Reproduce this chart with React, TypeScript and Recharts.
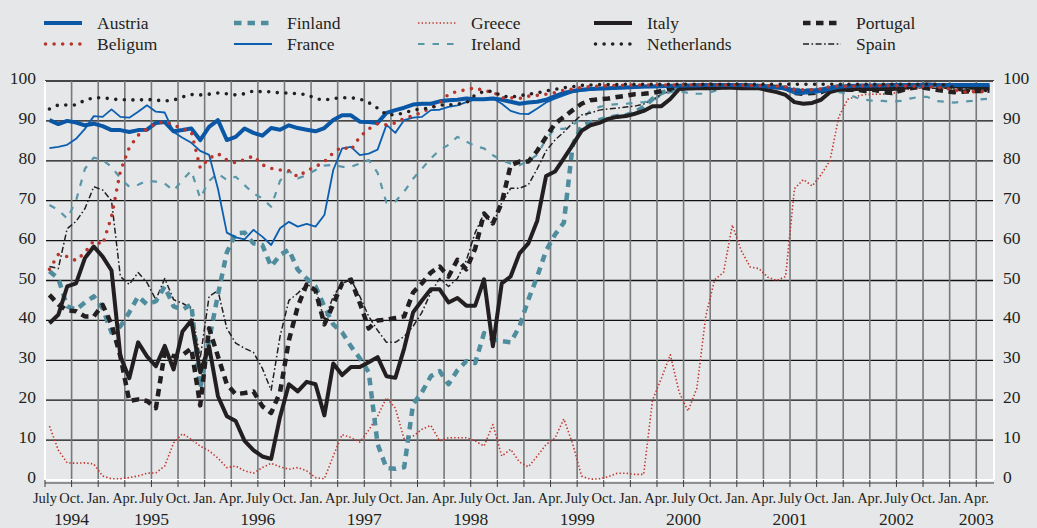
import { CartesianGrid, Line, LineChart, ReferenceLine, XAxis, YAxis } from "recharts";

// monthly readings, July 1994 .. May 2003 (plotted at mid-month)
const AUSTRIA = [
  90.2, 89.2, 90, 89.6, 88.9, 89.3, 88.7, 87.7, 87.7, 87.2,
  87.7, 87.8, 89.5, 89.7, 87.4, 87.7, 88.1, 85.2, 88.5, 90.2,
  85.2, 86, 88.1, 87, 86.3, 88.2, 87.8, 88.9, 88.2, 87.8,
  87.4, 88.2, 90.2, 91.4, 91.4, 89.8, 89.7, 89.5, 92, 92.7,
  93.3, 94.1, 94.3, 94.3, 94.9, 95.2, 95.3, 95.6, 95.4, 95.4,
  95.6, 95.3, 94.8, 94.3, 94.6, 94.8, 95.3, 96.2, 97, 97.5,
  97.8, 98, 98.1, 98.2, 98.3, 98.4, 98.5, 98.6, 98.6, 98.7,
  98.8, 98.8, 98.9, 98.9, 99, 99, 99, 99, 99, 98.9,
  98.8, 98.6, 98.4, 98.2, 97.6, 97.5, 97.6, 97.8, 98.2, 98.6,
  98.7, 98.8, 98.8, 98.9, 98.9, 99, 99, 99, 99, 99,
  99, 99, 99, 99, 99, 99, 99,
];

const BELGIUM = [
  52.8, 56.5, 56, 55, 57, 60, 59, 66, 77.4, 83.3,
  86.4, 88, 89.3, 89.8, 89, 88, 87.3, 78.2, 80.6, 81.8,
  80.2, 79.5, 80.3, 81.2, 79, 78.1, 77.7, 77.5, 76, 77.5,
  78.5, 79.8, 82, 83.5, 82.7, 86, 88, 89.3, 89, 89.5,
  90.6, 91.3, 92.2, 93.2, 94.5, 96.7, 97.4, 97.8, 98.3, 97.5,
  97.3, 95.8, 95.8, 95.6, 96.2, 96.4, 96.7, 97.1, 97.7, 98,
  98.4, 98.6, 98.7, 98.8, 98.9, 98.9, 99, 99, 99, 99,
  99, 99, 99, 99, 99, 99, 99, 99, 98.9, 98.9,
  98.8, 98.8, 98.7, 98.5, 97.8, 97.8, 97.8, 98, 98.6, 98.7,
  98.7, 98.7, 98.8, 98.8, 98.8, 98.8, 98.8, 98.7, 98.7, 98.6,
  98.5, 98.2, 97.8, 97.2, 97.3, 97.3, 97.8,
];

const FINLAND = [
  52.3, 50.5, 43.5, 42.7, 44.5, 46, 43, 37, 38.5, 42,
  46, 44, 44.8, 48.5, 43.5, 42.7, 44, 23, 35, 46.5,
  57, 61.8, 62, 59.3, 58.9, 53.5, 56.4, 57.7, 52.7, 50.5,
  48.5, 43.5, 39, 37, 33.5, 30.5, 27, 9, 3, 2.8,
  3.2, 19, 22, 26, 27.3, 24, 27.5, 29.8, 29.3, 36.8,
  35.2, 34.8, 34.5, 38.5, 45.2, 51, 57.5, 61.5, 64.5, 84,
  88.8, 89.6, 90.2, 90.8, 91.2, 91.4, 92.2, 93.5, 95.5, 97,
  97.8, 98.2, 98.5, 98.6, 98.7, 98.8, 98.8, 98.8, 98.8, 98.8,
  98.7, 98.6, 98.5, 98.3, 97.8, 97.6, 97.6, 97.8, 98.3, 98.6,
  98.7, 98.8, 98.8, 98.8, 98.8, 98.9, 98.9, 98.9, 98.9, 98.9,
  98.9, 98.9, 98.9, 98.9, 98.9, 98.9, 98.9,
];

const FRANCE = [
  83.2, 83.5, 84, 85.5, 88, 91.2, 91, 92.9, 91, 90.8,
  92.3, 93.9, 92.3, 92.1, 87.2, 85.8, 84.5, 82.5, 81.5, 73,
  62, 60.8, 60.3, 62.7, 61, 58.9, 63.1, 64.7, 63.5, 64.2,
  63.5, 66.4, 77.7, 83.1, 83.5, 81.4, 81.8, 82.8, 89, 87,
  90.2, 90.8, 91, 92.7, 92.8, 93.5, 93.9, 94.7, 95.3, 95.3,
  95.6, 94.3, 92.5, 91.8, 91.7, 93.1, 94.6, 95.6, 96.4, 97.2,
  97.5, 97.8, 97.9, 98, 98.1, 98.2, 98.3, 98.4, 98.5, 98.6,
  98.7, 98.8, 98.9, 98.9, 98.9, 98.9, 98.9, 98.9, 98.9, 98.8,
  98.6, 98.4, 98.2, 97.8, 96.8, 96.8, 97, 97.2, 97.8, 98.3,
  98.6, 98.7, 98.8, 98.8, 98.9, 98.9, 98.9, 98.9, 98.9, 98.9,
  98.9, 98.9, 98.8, 98.8, 98.8, 98.8, 98.8,
];

const GREECE = [
  13.5, 7.5, 4.3, 4.2, 4.3, 4, 1, 0.3, 0.3, 0.6,
  1, 1.7, 1.8, 3.5, 9.3, 11.6, 10.2, 8.5, 7.3, 5.5,
  3.1, 3.5, 2.3, 1.7, 3.1, 4.2, 3.3, 2.7, 3.1, 2.3,
  0.6, 0.3, 6, 11.4, 10.6, 9.5, 12.5, 16, 20.6, 18,
  10.2, 11, 12.7, 13.7, 9.8, 10.6, 10.6, 10.6, 9.8, 8.5,
  13.9, 6, 7.7, 4.5, 3.3, 6, 8.9, 10.5, 15.3, 9,
  1, 0.2, 0.3, 0.8, 1.7, 1.7, 1.4, 1.4, 20, 25.5,
  31.4, 22, 17.3, 23, 41, 50.2, 52, 63.9, 57.5, 53.4,
  53, 50.8, 50, 51, 73, 75.3, 73.7, 76.5, 80, 91,
  95.4, 96.2, 96.6, 96.7, 96.7, 96.8, 97.5, 98, 98.2, 98.3,
  98.3, 98.2, 98, 97.3, 97.5, 97.5, 97.8,
];

const IRELAND = [
  68.9, 67.7, 65.5, 70, 78, 80.8, 80.2, 78.5, 75.6, 73.5,
  74, 75, 74.8, 74.3, 72.5, 75.2, 77.5, 70.6, 75, 76.8,
  75.2, 76, 73.9, 71.8, 70.6, 68.5, 75, 77.5, 75.6, 76.4,
  77.7, 78.8, 79, 78.5, 78.5, 79.3, 80.2, 77, 69.5, 69.8,
  72.3, 75.5, 78, 80.6, 82.7, 84, 86, 84.8, 83.7, 83.1,
  81.4, 80.2, 79.3, 78.9, 80, 81.5, 85.5, 88, 88, 89,
  90.5, 92.5, 93.5, 94, 94.2, 94.3, 94.5, 94.7, 95, 96.5,
  97.2, 97.5, 97, 96.8, 96.8, 97.5, 98, 98.5, 98.5, 98.5,
  98.5, 98.5, 98.5, 98.5, 97.5, 97.3, 97.3, 97.5, 97.8, 97.2,
  96.8, 95.8, 95.3, 95, 95, 94.8, 95, 95.6, 96, 96,
  95, 94.8, 94.6, 94.8, 95, 95.4, 95.6,
];

const ITALY = [
  39.3, 41.4, 48.5, 49.3, 55.6, 58.5, 56, 52.5, 31, 25.5,
  34.5, 31, 28.5, 33.6, 27.7, 37.2, 40, 27, 33.5, 21,
  16, 14.8, 9.8, 7.5, 5.9, 5.3, 15.8, 24, 22.2, 24.6,
  24, 16.2, 29.2, 26.3, 28.3, 28.3, 29.5, 30.8, 26, 25.6,
  33, 42, 45, 47.8, 47.8, 44.5, 45.6, 43.7, 43.7, 50.3,
  33.5, 49.3, 51, 56.8, 59.3, 65, 76.2, 77.3, 80.6, 84,
  87.5, 88.9, 89.5, 90.5, 91, 91.2, 91.8, 92.5, 93.7, 93.7,
  95.5, 98, 98.1, 98.2, 98.2, 98.2, 98.3, 98.3, 98.2, 98.2,
  98.2, 97.7, 97.2, 96.5, 94.7, 94.3, 94.5, 95.3, 97.2, 97.8,
  97.8, 98, 98, 98, 98, 98, 98.2, 98.5, 99, 99.1,
  99, 98.8, 98.7, 98.6, 98.5, 98.4, 98.3,
];

const NETHERLANDS = [
  93, 94, 94, 94, 95.2, 95.8, 95.8, 95.5, 95.3, 95.3,
  95.2, 95.4, 95.2, 95, 95.2, 96, 96.6, 96.5, 96.7, 97,
  96.8, 96.5, 96.8, 97.5, 97.3, 97.3, 97, 97, 96.8, 96.6,
  95.6, 95.2, 95.6, 95.8, 95.8, 95.5, 94.6, 93.2, 91.6, 91.5,
  92, 92.7, 93, 93.3, 94, 94, 94.2, 94.5, 96.5, 97.4,
  97.4, 96.2, 96, 96.3, 96.7, 97, 97.5, 97.9, 98.3, 98.6,
  98.9, 99, 99.1, 99.1, 99.1, 99.2, 99.2, 99.2, 99.2, 99.2,
  99.2, 99.2, 99.2, 99.2, 99.2, 99.2, 99.2, 99.2, 99.2, 99.2,
  99.2, 99.2, 99.2, 99.2, 99.2, 99.2, 99.2, 99.2, 99.2, 99.2,
  99.2, 99.2, 99.2, 99.2, 99.2, 99.2, 99.2, 99.2, 99.2, 99.2,
  99.2, 99, 98.3, 97.6, 97.6, 97.4, 97.8,
];

const PORTUGAL = [
  46.4, 44, 42.5, 42.3, 41, 41, 43.9, 39, 31, 19.8,
  20.2, 19.8, 18, 32, 31, 31.3, 33, 18.7, 38, 31,
  24, 21.5, 21.8, 22.2, 18.5, 16.8, 22, 35, 43.5, 49,
  47.5, 39, 44, 49.3, 50.2, 44.3, 38, 40, 40.2, 40.6,
  41, 47, 49.3, 52, 53.5, 51, 55.2, 52.8, 58, 66.8,
  64.3, 69.5, 78.9, 79.8, 79.8, 82.5, 86, 89.3, 91, 92.7,
  94.3, 95.2, 95.4, 95.6, 96, 96.3, 96.7, 96.8, 97, 97.5,
  98.1, 98.7, 98.8, 98.8, 98.8, 98.8, 98.8, 98.8, 98.8, 98.8,
  98.7, 98.6, 98.5, 98.2, 97, 96.8, 97, 97.2, 98, 98.3,
  97.8, 97.8, 97.5, 97.8, 97.2, 97, 97.6, 98.2, 98.5, 98.2,
  97.8, 97.5, 97.2, 97.3, 97.5, 97.5, 97.6,
];

const SPAIN = [
  53.5, 53, 63, 64.8, 68, 73.5, 72.7, 70, 51, 49,
  52, 49.5, 45.2, 50.5, 45.2, 44.3, 43, 30.5, 46, 47.5,
  38, 34.3, 33, 32, 28, 22.5, 36, 45, 46.8, 49,
  48, 40, 46, 49.3, 50.2, 46, 41, 37.5, 34.5, 34.5,
  36, 38.5, 42, 47, 50.5, 48.5, 50.5, 55, 62, 66.8,
  64, 69.5, 73.1, 73.1, 74, 78, 82.5, 85.2, 87.2, 89.5,
  91.5, 92, 92.7, 93, 93.2, 93.5, 93.7, 94.2, 95.3, 96.7,
  97.5, 98.2, 98.5, 98.6, 98.6, 98.6, 98.6, 98.6, 98.6, 98.5,
  98.4, 98.3, 98.2, 98, 97, 96.8, 97, 97.5, 98, 98.3,
  98.4, 98.4, 98.4, 98.4, 98.3, 98.3, 98.3, 98.3, 98.3, 98.2,
  98.2, 98.2, 98, 98, 98, 98, 98,
];

const MONTH_NAMES = ["July", "Oct.", "Jan.", "Apr."];
const MONTH_TICKS = Array.from({ length: 36 }, (_, i) => i * 3);
const YEAR_TICKS = [3, 12, 24, 36, 48, 60, 72, 84, 96, 105];
const YEAR_LABELS = ["1994", "1995", "1996", "1997", "1998", "1999", "2000", "2001", "2002", "2003"];
const Y_TICKS = [0, 10, 20, 30, 40, 50, 60, 70, 80, 90, 100];

const BG = "#e6e7e9";
const INK = "#231f20";
const FONT = "Liberation Serif, DejaVu Serif, serif";

type Series = {
  key: string;
  name: string;
  data: number[];
  color: string;
  width: number;
  dash?: string;
  round?: boolean;
};

const SERIES: Series[] = [
  { key: "greece", name: "Greece", data: GREECE, color: "#c1342c", width: 1.6, dash: "1.4 2.2" },
  { key: "ireland", name: "Ireland", data: IRELAND, color: "#5996a8", width: 2.2, dash: "6.5 8" },
  { key: "spain", name: "Spain", data: SPAIN, color: INK, width: 1.5, dash: "6 2.5 1.6 2.5" },
  { key: "finland", name: "Finland", data: FINLAND, color: "#4f8c9d", width: 4.5, dash: "7.5 6" },
  { key: "portugal", name: "Portugal", data: PORTUGAL, color: INK, width: 4.5, dash: "7.5 5.5" },
  { key: "italy", name: "Italy", data: ITALY, color: INK, width: 4 },
  { key: "france", name: "France", data: FRANCE, color: "#0c5fb0", width: 1.8 },
  { key: "austria", name: "Austria", data: AUSTRIA, color: "#0a57a5", width: 4 },
  { key: "belgium", name: "Beligum", data: BELGIUM, color: "#b8342c", width: 3.6, dash: "0 8.6", round: true },
  { key: "netherlands", name: "Netherlands", data: NETHERLANDS, color: INK, width: 3.6, dash: "0 8.6", round: true },
];

// legend layout: five columns, two rows
const LEGEND_COLUMNS = [
  ["austria", "belgium"],
  ["finland", "france"],
  ["greece", "ireland"],
  ["italy", "netherlands"],
  ["portugal", "spain"],
];
const LEGEND_X = [44, 234, 418, 594, 803];

const rows = AUSTRIA.map((_, i) => {
  const row: Record<string, number> = { t: i + 0.5 };
  SERIES.forEach((s) => {
    row[s.key] = s.data[i];
  });
  return row;
});

function Label(props: { x: number; y: number; size: number; anchor: "start" | "middle" | "end"; children: any }) {
  return (
    <text
      x={props.x}
      y={props.y}
      textAnchor={props.anchor}
      fontSize={props.size}
      fontFamily={FONT}
      fill={INK}
      style={{ fontFamily: FONT }}
    >
      {props.children}
    </text>
  );
}

function MonthTick(props: any) {
  const { x, y, payload } = props;
  return (
    <Label x={x} y={y + 16} size={14.5} anchor="middle">
      {MONTH_NAMES[(payload.value / 3) % 4]}
    </Label>
  );
}

function YearTick(props: any) {
  const { x, y, payload } = props;
  return (
    <Label x={x} y={y + 19} size={17.5} anchor="middle">
      {YEAR_LABELS[YEAR_TICKS.indexOf(payload.value)]}
    </Label>
  );
}

function LeftTick(props: any) {
  const { x, y, payload } = props;
  return (
    <Label x={x - 9} y={y + 3} size={17.5} anchor="end">
      {payload.value}
    </Label>
  );
}

function RightTick(props: any) {
  const { x, y, payload } = props;
  return (
    <Label x={x + 9} y={y + 3} size={17.5} anchor="start">
      {payload.value}
    </Label>
  );
}

function LegendBox() {
  const byKey = Object.fromEntries(SERIES.map((s) => [s.key, s]));
  return (
    <svg width={1037} height={60} style={{ position: "absolute", left: 0, top: 0 }}>
      {LEGEND_COLUMNS.map((col, ci) =>
        col.map((key, ri) => {
          const s = byKey[key];
          const x0 = LEGEND_X[ci];
          const cy = ri === 0 ? 23 : 44;
          return (
            <g key={key}>
              <line
                x1={x0 + (s.round ? 1.5 : 0)}
                x2={x0 + 38}
                y1={cy}
                y2={cy}
                stroke={s.color}
                strokeWidth={s.width}
                strokeDasharray={s.dash}
                strokeLinecap={s.round ? "round" : "butt"}
              />
              <Label x={x0 + 53} y={cy + 6} size={17.5} anchor="start">
                {s.name}
              </Label>
            </g>
          );
        })
      )}
    </svg>
  );
}

export default function App() {
  return (
    <div style={{ position: "absolute", left: 0, top: 0, width: 1037, height: 528, background: BG }}>
      <LineChart width={1037} height={528} data={rows} margin={{ top: 81, right: 0, bottom: 0, left: 0 }}>
        <CartesianGrid xAxisId="m" yAxisId="l" vertical={false} stroke="#111" strokeWidth={1.3} />
        <CartesianGrid xAxisId="m" yAxisId="l" horizontal={false} stroke="#77787b" strokeWidth={1.6} />
        <XAxis
          xAxisId="m"
          dataKey="t"
          type="number"
          domain={[0, 107]}
          ticks={MONTH_TICKS}
          interval={0}
          height={26}
          tickSize={7}
          tickMargin={0}
          axisLine={false}
          tickLine={{ stroke: "#3a3a3a" }}
          tick={<MonthTick />}
        />
        <XAxis
          xAxisId="yr"
          dataKey="t"
          type="number"
          domain={[0, 107]}
          allowDataOverflow
          ticks={YEAR_TICKS}
          interval={0}
          height={22}
          tickSize={0}
          tickMargin={0}
          axisLine={false}
          tickLine={false}
          tick={<YearTick />}
        />
        <YAxis
          yAxisId="l"
          domain={[0, 100]}
          ticks={Y_TICKS}
          interval={0}
          width={45}
          tickSize={0}
          tickMargin={0}
          axisLine={false}
          tickLine={false}
          tick={<LeftTick />}
        />
        <YAxis
          yAxisId="r"
          orientation="right"
          domain={[0, 100]}
          allowDataOverflow
          ticks={Y_TICKS}
          interval={0}
          width={43}
          tickSize={0}
          tickMargin={0}
          axisLine={false}
          tickLine={false}
          tick={<RightTick />}
        />
        <ReferenceLine xAxisId="m" yAxisId="l" y={-0.75} ifOverflow="visible" stroke="#3a3a3a" strokeWidth={1.2} />
        <ReferenceLine xAxisId="m" yAxisId="l" y={0} stroke="#ffffff" strokeWidth={2} />
        <ReferenceLine xAxisId="m" yAxisId="l" x={0} stroke="#ffffff" strokeWidth={2} />
        <ReferenceLine xAxisId="m" yAxisId="l" x={107} stroke="#ffffff" strokeWidth={2} />
        {SERIES.map((s) => (
          <Line
            key={s.key}
            xAxisId="m"
            yAxisId="l"
            type="linear"
            dataKey={s.key}
            name={s.name}
            stroke={s.color}
            strokeWidth={s.width}
            strokeDasharray={s.dash}
            strokeLinecap={s.round ? "round" : "butt"}
            strokeLinejoin="round"
            dot={false}
            activeDot={false}
            isAnimationActive={false}
          />
        ))}
      </LineChart>
      <LegendBox />
    </div>
  );
}
